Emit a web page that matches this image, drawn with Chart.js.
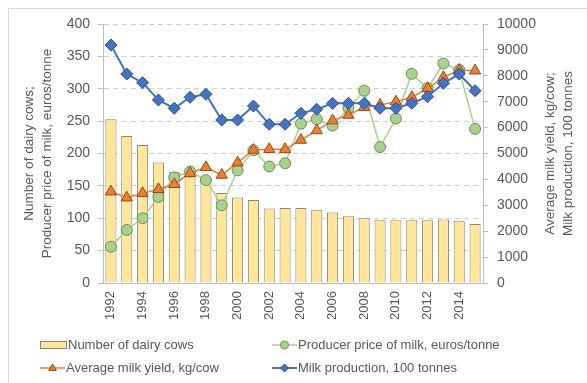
<!DOCTYPE html>
<html>
<head>
<meta charset="utf-8">
<script src="https://cdn.jsdelivr.net/npm/chart.js@4.4.0/dist/chart.umd.min.js"></script>
<style>
  body { margin: 0; background: #fff; }
  #wrap { position: relative; width: 587px; height: 383px; }
</style>
</head>
<body>
<div id="wrap"><canvas id="chart" width="587" height="383"></canvas></div>
<script>
const years = ['1992','1993','1994','1995','1996','1997','1998','1999','2000','2001','2002','2003',
               '2004','2005','2006','2007','2008','2009','2010','2011','2012','2013','2014','2015'];
// left axis
const cows = [253, 227, 213, 186, 172, 169, 159, 139, 132, 128, 115, 116,
              116, 113, 109, 103, 100, 97, 97, 97, 97, 98, 96, 91];
const price = [56, 82, 100, 133, 163, 172, 159, 120, 174, 205, 180, 185,
               246, 253, 243, 270, 297, 210, 254, 323, 301, 339, 329, 238];
// right axis
const milkYield = [3525, 3293, 3463, 3618, 3811, 4236, 4467, 4170, 4645, 5135, 5162, 5162,
                   5521, 5890, 6270, 6486, 6784, 6873, 7000, 7170, 7517, 7942, 8224, 8197];
const production = [9189, 8069, 7734, 7066, 6745, 7170, 7285, 6293, 6293, 6834, 6126, 6126,
                    6552, 6706, 6938, 6938, 6938, 6745, 6745, 6938, 7193, 7710, 8069, 7425];

const leftTicks = { min: 0, max: 400, step: 50 };
const rightTicks = { min: 0, max: 10000, step: 1000 };
const leftTitle = ['Number of dairy cows;', 'Producer price of milk, euros/tonne'];
const rightTitle = ['Average milk yield, kg/cow;', 'Milk production, 100 tonnes'];

const textColor = '#595959';
const fontFamily = '"Liberation Sans", Arial, sans-serif';

const frame = {
  id: 'frame',
  beforeDraw(chart) {
    const { ctx } = chart;
    ctx.save();
    ctx.fillStyle = '#fff';
    ctx.fillRect(0, 0, chart.width, chart.height);
    ctx.strokeStyle = '#d9d9d9';
    ctx.lineWidth = 1;
    ctx.beginPath();
    ctx.moveTo(8.5, chart.height);
    ctx.lineTo(8.5, 8.5);
    ctx.lineTo(chart.width, 8.5);
    ctx.stroke();
    ctx.restore();
  }
};

// right axis title reads bottom to top, like the left one
const rightTitlePlugin = {
  id: 'rightTitle',
  afterDraw(chart) {
    const { ctx, chartArea } = chart;
    const cy = (chartArea.top + chartArea.bottom) / 2;
    ctx.save();
    ctx.fillStyle = textColor;
    ctx.font = '13.5px ' + fontFamily;
    ctx.textAlign = 'center';
    ctx.textBaseline = 'middle';
    rightTitle.forEach((line, i) => {
      ctx.save();
      ctx.translate(chartArea.right + 67 + i * 18, cy);
      ctx.rotate(-Math.PI / 2);
      ctx.fillText(line, 0, 0);
      ctx.restore();
    });
    ctx.restore();
  }
};

const drawMarker = (ctx, style, x, y, r) => {
  ctx.beginPath();
  if (style === 'circle') {
    ctx.arc(x, y, r, 0, Math.PI * 2);
  } else if (style === 'triangle') {
    ctx.moveTo(x, y - r);
    ctx.lineTo(x + r * 0.95, y + r * 0.6);
    ctx.lineTo(x - r * 0.95, y + r * 0.6);
    ctx.closePath();
  } else {
    ctx.moveTo(x, y - r);
    ctx.lineTo(x + r, y);
    ctx.lineTo(x, y + r);
    ctx.lineTo(x - r, y);
    ctx.closePath();
  }
  ctx.fill();
  ctx.stroke();
};

// legend in two columns
const gridLegend = {
  id: 'gridLegend',
  afterDraw(chart) {
    const { ctx } = chart;
    const cols = [40, 272];
    const rows = [345, 368];
    ctx.save();
    ctx.font = '13px ' + fontFamily;
    ctx.textBaseline = 'middle';
    ctx.fillStyle = textColor;
    chart.data.datasets.forEach((ds, i) => {
      const x = cols[i % 2];
      const y = rows[Math.floor(i / 2)];
      if (ds.type === 'bar') {
        ctx.fillStyle = ds.backgroundColor;
        ctx.strokeStyle = ds.borderColor;
        ctx.lineWidth = 1;
        ctx.fillRect(x, y - 4, 27, 8);
        ctx.strokeRect(x + 0.5, y - 3.5, 26, 7);
      } else {
        ctx.strokeStyle = ds.borderColor;
        ctx.lineWidth = ds.borderWidth;
        ctx.beginPath();
        ctx.moveTo(x, y);
        ctx.lineTo(x + 25, y);
        ctx.stroke();
        ctx.fillStyle = ds.pointBackgroundColor;
        ctx.strokeStyle = ds.pointBorderColor;
        ctx.lineWidth = 1;
        drawMarker(ctx, ds.pointStyle, x + 12.5, y, 4);
      }
      ctx.fillStyle = textColor;
      ctx.fillText(ds.label, x + (ds.type === 'bar' ? 28 : 26), y);
    });
    ctx.restore();
  }
};

const ctx = document.getElementById('chart').getContext('2d');
new Chart(ctx, {
  data: {
    labels: years,
    datasets: [
      {
        type: 'bar',
        label: 'Number of dairy cows',
        data: cows,
        yAxisID: 'y',
        backgroundColor: '#ffe699',
        borderColor: '#8a877b',
        borderWidth: 1,
        barPercentage: 0.7,
        categoryPercentage: 1,
        order: 4
      },
      {
        type: 'line',
        label: 'Producer price of milk, euros/tonne',
        data: price,
        yAxisID: 'y',
        borderColor: '#a9d18e',
        borderWidth: 1.5,
        pointStyle: 'circle',
        pointRadius: 5.5,
        pointBackgroundColor: '#a9d18e',
        pointBorderColor: '#6f8f5c',
        pointBorderWidth: 1,
        tension: 0,
        order: 3
      },
      {
        type: 'line',
        label: 'Average milk yield, kg/cow',
        data: milkYield,
        yAxisID: 'y1',
        borderColor: '#ed7d31',
        borderWidth: 1.5,
        pointStyle: 'triangle',
        pointRadius: 6.5,
        pointBackgroundColor: '#ed7d31',
        pointBorderColor: '#9a4a17',
        pointBorderWidth: 1,
        tension: 0,
        order: 2
      },
      {
        type: 'line',
        label: 'Milk production, 100 tonnes',
        data: production,
        yAxisID: 'y1',
        borderColor: '#4472c4',
        borderWidth: 2,
        pointStyle: 'rectRot',
        pointRadius: 6,
        pointBackgroundColor: '#4472c4',
        pointBorderColor: '#2f528f',
        pointBorderWidth: 1,
        tension: 0,
        order: 1
      }
    ]
  },
  options: {
    responsive: false,
    animation: false,
    layout: { padding: { top: 24, left: 0, right: 0, bottom: 0 } },
    plugins: {
      legend: { display: false },
      tooltip: { enabled: false }
    },
    scales: {
      x: {
        grid: { display: false, drawTicks: false },
        border: { display: true, color: '#bfbfbf' },
        ticks: {
          color: textColor,
          font: { size: 13, family: fontFamily },
          minRotation: 90,
          maxRotation: 90,
          autoSkip: false,
          padding: 8,
          callback: function (val, i) { return i % 2 === 0 ? this.getLabelForValue(val) : ''; }
        },
        afterFit: (scale) => { scale.height = 100; }
      },
      y: {
        position: 'left',
        min: leftTicks.min,
        max: leftTicks.max,
        grid: {
          color: '#d0d0d0',
          tickColor: '#bfbfbf',
          tickLength: 5,
          tickBorderDash: [],
          lineWidth: 1
        },
        border: { display: true, color: '#bfbfbf', dash: [5, 4] },
        ticks: {
          stepSize: leftTicks.step,
          color: textColor,
          font: { size: 14, family: fontFamily },
          padding: 8
        },
        title: {
          display: true,
          text: leftTitle,
          color: textColor,
          font: { size: 13.5, family: fontFamily, lineHeight: 1.35 },
          padding: { top: 20, bottom: 0 }
        },
        afterFit: (scale) => { scale.width = 103; }
      },
      y1: {
        position: 'right',
        min: rightTicks.min,
        max: rightTicks.max,
        grid: { drawOnChartArea: false, tickColor: '#bfbfbf', tickLength: 5 },
        border: { display: true, color: '#bfbfbf' },
        ticks: {
          stepSize: rightTicks.step,
          color: textColor,
          font: { size: 14, family: fontFamily },
          padding: 9,
          callback: (val) => String(val)
        },
        afterFit: (scale) => { scale.width = 104; }
      }
    }
  },
  plugins: [frame, rightTitlePlugin, gridLegend]
});
</script>
</body>
</html>
